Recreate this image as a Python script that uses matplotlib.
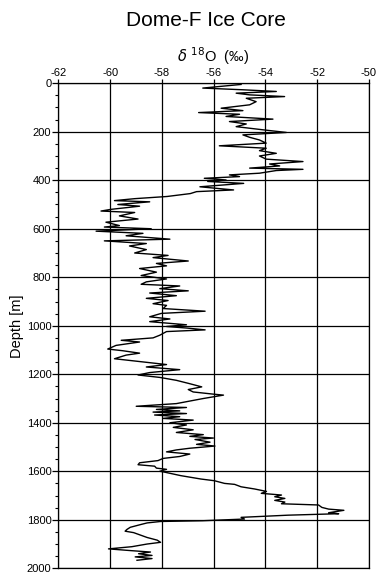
import matplotlib.pyplot as plt
from matplotlib.ticker import MultipleLocator

plt.rcParams['font.family'] = ['Liberation Sans', 'DejaVu Sans']

# depth (m) and delta-18O (permil)
depth = [5, 20, 27, 34, 41, 48, 55, 62, 76, 89, 103, 113, 121, 128, 137, 148, 158, 168, 179, 192,
         203, 213, 223, 234, 247, 258, 268, 278, 289, 300, 313, 323, 333, 341, 350, 355, 360, 371, 378, 385,
         392, 399, 405, 413, 427, 440, 447, 455, 467, 476, 484, 489, 500, 507, 520, 527, 533, 547, 560, 573,
         587, 593, 600, 610, 619, 629, 643, 650, 661, 671, 686, 700, 710, 719, 733, 743, 753, 764, 779, 793,
         807, 819, 829, 836, 847, 856, 865, 876, 887, 896, 909, 916, 929, 940, 949, 963, 972, 983, 996, 1003,
         1010, 1017, 1024, 1039, 1050, 1060, 1067, 1081, 1096, 1103, 1113, 1121, 1136, 1146, 1160, 1170, 1181, 1193, 1203, 1213,
         1225, 1239, 1252, 1263, 1273, 1282, 1286, 1293, 1300, 1321, 1332, 1337, 1345, 1351, 1356, 1362, 1368, 1375, 1382, 1389,
         1400, 1409, 1419, 1429, 1440, 1449, 1456, 1463, 1469, 1480, 1489, 1496, 1505, 1512, 1520, 1529, 1539, 1547, 1556, 1565,
         1573, 1579, 1587, 1592, 1600, 1603, 1618, 1632, 1639, 1650, 1654, 1664, 1673, 1683, 1691, 1698, 1705, 1712, 1720, 1727,
         1734, 1739, 1749, 1756, 1761, 1771, 1775, 1781, 1790, 1797, 1804, 1807, 1813, 1820, 1831, 1840, 1847, 1853, 1863, 1873,
         1884, 1893, 1900, 1911, 1920, 1927, 1933, 1940, 1947, 1953, 1960, 1967]
d18o = [-54.94, -56.42, -54.87, -53.58, -55.13, -54.61, -53.26, -54.74, -54.36, -54.61,
        -55.71, -54.87, -56.58, -55.00, -55.52, -53.71, -55.39, -54.74, -55.13, -54.10,
        -53.19, -54.87, -54.61, -54.23, -53.97, -55.78, -53.97, -54.23, -53.58, -54.23,
        -53.97, -52.55, -53.84, -53.45, -54.61, -52.55, -53.58, -54.23, -55.39, -55.00,
        -56.36, -55.52, -56.23, -54.84, -56.53, -55.23, -56.66, -56.90, -57.80, -59.05,
        -59.83, -58.47, -59.70, -58.86, -59.96, -60.35, -59.05, -59.64, -58.92, -60.16,
        -59.64, -60.22, -58.41, -60.54, -58.73, -59.38, -57.69, -60.22, -58.60, -59.25,
        -58.60, -59.05, -57.76, -58.34, -56.98, -58.21, -57.82, -58.86, -58.21, -58.80,
        -57.82, -58.60, -58.80, -57.31, -58.08, -56.98, -58.47, -57.44, -58.60, -57.76,
        -58.34, -57.82, -57.95, -56.33, -58.02, -58.47, -57.69, -58.47, -57.05, -57.82,
        -56.98, -56.33, -57.82, -58.08, -58.34, -59.57, -58.86, -59.77, -60.09, -59.51,
        -58.86, -59.38, -59.83, -58.99, -57.82, -58.60, -57.31, -58.47, -58.92, -58.08,
        -57.44, -56.92, -56.46, -56.98, -56.79, -56.01, -55.62, -56.01, -56.40, -57.44,
        -58.99, -57.05, -58.21, -57.31, -58.34, -57.05, -58.28, -57.31, -57.95, -56.79,
        -57.69, -57.05, -57.56, -56.79, -57.44, -56.40, -56.92, -56.01, -56.72, -56.14,
        -56.66, -55.95, -56.92, -57.44, -57.82, -56.92, -57.31, -57.95, -58.15, -58.86,
        -58.92, -58.28, -58.21, -57.82, -58.08, -57.92, -57.27, -56.49, -55.97, -55.58,
        -55.19, -54.94, -54.42, -53.96, -54.16, -53.38, -53.64, -53.25, -53.64, -53.25,
        -53.38, -51.95, -51.82, -51.56, -50.97, -51.56, -51.17, -53.12, -54.94, -54.81,
        -56.43, -58.05, -58.57, -58.83, -59.22, -59.35, -59.42, -59.09, -58.83, -58.57,
        -58.18, -58.05, -58.57, -59.16, -60.06, -59.22, -58.44, -58.90, -58.38, -59.03,
        -58.38, -58.96]

x_ticks = [-62, -60, -58, -56, -54, -52, -50]
y_ticks = [0, 200, 400, 600, 800, 1000, 1200, 1400, 1600, 1800, 2000]

fig = plt.figure(figsize=(3.81, 5.72), dpi=100)
ax = fig.add_axes([0.153, 0.0065, 0.8155, 0.848])

ax.plot(d18o, depth, color='black', lw=1.0)

ax.set_xlim(-62, -50)
ax.set_ylim(2000, 0)
ax.xaxis.tick_top()
ax.xaxis.set_label_position('top')
ax.set_xticks(x_ticks)
ax.set_xticklabels([str(v) for v in x_ticks])
ax.set_yticks(y_ticks)
ax.yaxis.set_minor_locator(MultipleLocator(50))
ax.grid(True, color='black', lw=0.9)

ax.tick_params(axis='x', direction='out', length=3, width=0.9, labelsize=8, pad=1)
ax.tick_params(axis='y', which='major', direction='out', length=4, width=0.9, labelsize=8, pad=1)
ax.tick_params(axis='y', which='minor', direction='out', length=2, width=0.8)
for s in ax.spines.values():
    s.set_linewidth(0.9)

ax.set_xlabel(r'$\delta\ ^{18}$O  (‰)', fontsize=10.5, labelpad=4)
ax.set_ylabel('Depth [m]', fontsize=10.5, labelpad=2)

fig.text(0.54, 0.965, 'Dome-F Ice Core', ha='center', va='center', fontsize=15)

fig.savefig('out.png', dpi=100)
